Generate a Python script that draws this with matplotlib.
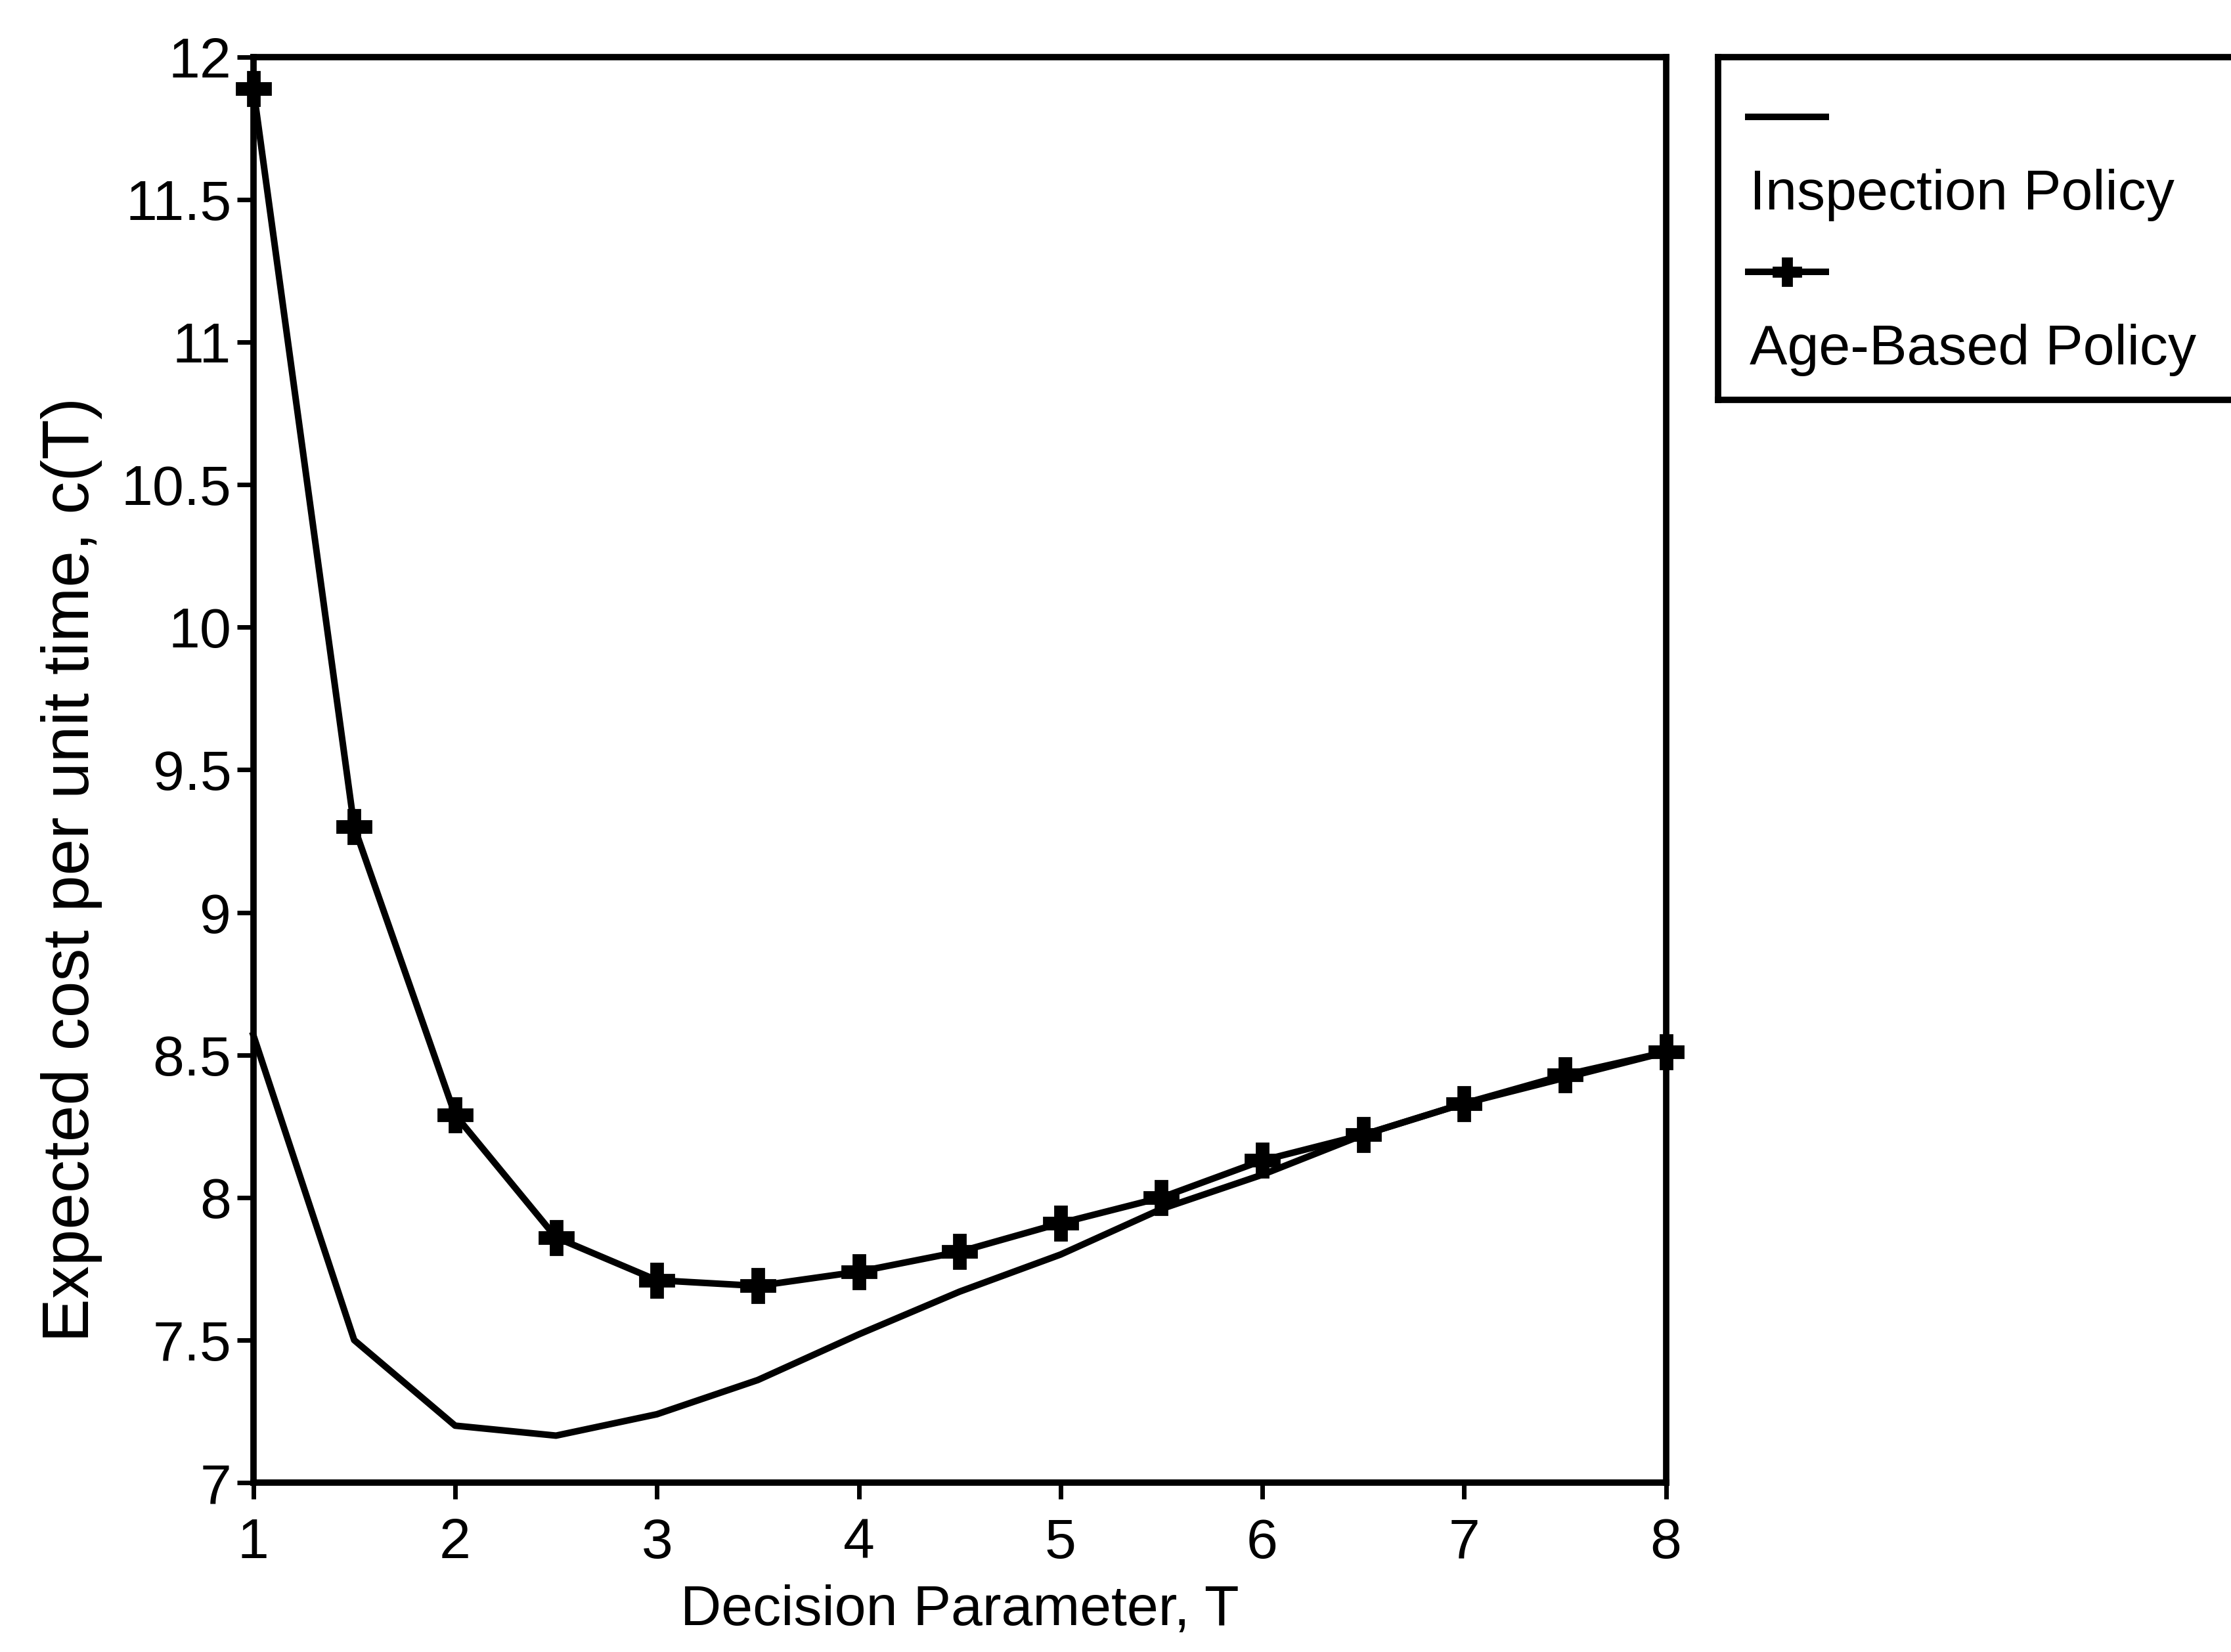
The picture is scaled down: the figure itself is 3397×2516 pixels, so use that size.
import matplotlib
matplotlib.use("Agg")
from matplotlib import pyplot as plt

plt.rcParams['font.family'] = ['Liberation Sans', 'DejaVu Sans']

# decision parameter T
T = [1, 1.5, 2, 2.5, 3, 3.5, 4, 4.5, 5, 5.5, 6, 6.5, 7, 7.5, 8]

# expected cost per unit time for each policy
inspection = [8.57, 7.50, 7.20, 7.165, 7.24, 7.36, 7.52, 7.67, 7.80, 7.96, 8.08, 8.22, 8.33, 8.42, 8.51]
age_based = [11.89, 9.30, 8.29, 7.86, 7.71, 7.69, 7.74, 7.81, 7.91, 8.00, 8.13, 8.22, 8.33, 8.43, 8.51]

yticks = [7, 7.5, 8, 8.5, 9, 9.5, 10, 10.5, 11, 11.5, 12]
xticks = [1, 2, 3, 4, 5, 6, 7, 8]

fs = 31
lw = 3.6

fig = plt.figure(figsize=(16.99, 12.58), dpi=200)
ax = fig.add_axes([0.1135, 0.1025, 0.633, 0.863])

ax.plot(T, inspection, 'k-', lw=lw, clip_on=False)
ax.plot(T, age_based, 'k-', lw=lw, marker='P', markersize=19, clip_on=False)

ax.set_xlim(1, 8)
ax.set_ylim(7, 12)
ax.set_xticks(xticks)
ax.set_yticks(yticks)
ax.set_yticklabels(['%g' % v for v in yticks])
ax.tick_params(direction='out', length=9, width=2.5, labelsize=fs)
ax.tick_params(axis='x', pad=10)
ax.tick_params(axis='y', pad=3)
for s in ax.spines.values():
    s.set_linewidth(3.5)

ax.set_xlabel('Decision Parameter, T', fontsize=fs, labelpad=8)
ax.set_ylabel('Expected cost per unit time, c(T)', fontsize=36)
ax.yaxis.set_label_coords(-0.107, 0.43)

# legend box with handles above the labels
lg = fig.add_axes([0.770, 0.758, 0.24, 0.2075])
lg.set_xlim(0, 1)
lg.set_ylim(0, 1)
lg.set_xticks([])
lg.set_yticks([])
for s in lg.spines.values():
    s.set_linewidth(3.5)
lg.plot([0.056, 0.2], [0.826, 0.826], 'k-', lw=lw)
lg.text(0.058, 0.598, 'Inspection Policy', fontsize=fs, va='center', ha='left')
lg.plot([0.056, 0.2], [0.373, 0.373], 'k-', lw=lw)
lg.plot([0.128], [0.373], 'k', marker='P', markersize=15)
lg.text(0.058, 0.145, 'Age-Based Policy', fontsize=fs, va='center', ha='left')

plt.savefig('out.png', dpi=200)
